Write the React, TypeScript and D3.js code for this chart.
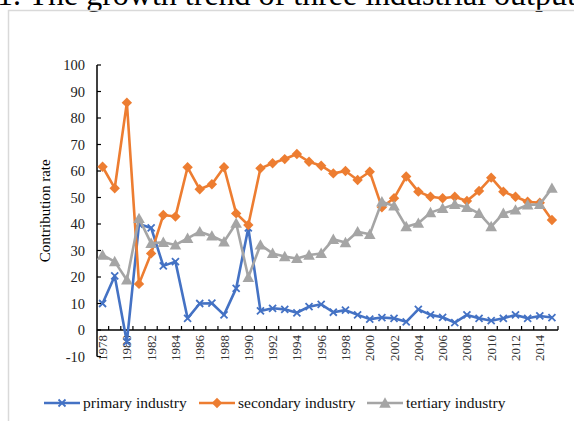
import React from "react";
import * as d3 from "d3";

const years: number[] = d3.range(1978, 2016);
const primary: number[] = [10, 20.4, -4.5, 40, 38.5, 24.2, 25.8, 4.4, 10, 10.1, 5.7, 15.7, 38.5,
  7.2, 8.2, 7.8, 6.5, 8.8, 9.7, 6.7, 7.5, 5.7, 4.1, 4.7, 4.4, 3.1, 7.8, 5.7, 4.8, 2.8, 5.7, 4.4, 3.5, 4.4, 5.7, 4.4, 5.3, 4.7];
const secondary: number[] = [61.6, 53.5, 85.8, 17.4, 28.9, 43.4, 42.8, 61.4, 53.1, 55, 61.4, 44, 39.6,
  61, 62.9, 64.5, 66.4, 63.5, 62, 59.1, 60, 56.6, 59.7, 46.3, 49.7, 57.9, 52.2, 50.3, 49.7, 50.3, 48.7, 52.5, 57.5, 52.2, 50.3, 48.4, 48, 41.5];
const tertiary: number[] = [28.3, 25.8, 18.9, 42.1, 32.7, 33.1, 32.1, 34.6, 37.1, 35.5, 33.3, 40.3, 19.9,
  32.1, 28.9, 27.7, 27, 28.3, 28.9, 34.2, 33, 37.1, 36.1, 48.4, 46.8, 39, 40.3, 44.3, 45.9, 47.4, 46.3, 44, 39, 44, 45.3, 47.2, 47.4, 53.5];
const yTicks: number[] = d3.range(-10, 101, 10);
const seriesNames: string[] = ["primary industry", "secondary industry", "tertiary industry"];
const colors: string[] = ["#4472C4", "#ED7D31", "#A5A5A5"];
const titleText = "1.   The growth trend of three industrial output";

const FONT = "Liberation Serif";

function Marker({ kind, x, y, color }: { kind: number; x: number; y: number; color: string }) {
  if (kind === 0) {
    const s = 3.5;
    return (
      <path d={`M${x - s},${y - s}L${x + s},${y + s}M${x - s},${y + s}L${x + s},${y - s}`} stroke={color} strokeWidth={1.8} fill="none" />
    );
  }
  if (kind === 1) {
    const s = 5.2;
    return <path d={`M${x},${y - s}L${x + s},${y}L${x},${y + s}L${x - s},${y}Z`} fill={color} />;
  }
  const s = 5.8;
  return <path d={`M${x},${y - s}L${x + s},${y + s * 0.8}L${x - s},${y + s * 0.8}Z`} fill={color} />;
}

export default function App() {
  const W = 574, H = 421;
  const left = 97, right = 558;
  const y = d3.scaleLinear().domain([-10, 100]).range([356.5, 65]);
  const x = d3.scaleBand<number>().domain(years).range([left - 0.5, right]).paddingInner(0).paddingOuter(0);
  const cx = (yr: number) => (x(yr) as number) + x.bandwidth() / 2;
  const all = [primary, secondary, tertiary];
  const line = d3.line<number>().x((_, i) => cx(years[i])).y((d) => y(d));
  const y0 = y(0);

  const legendItems = [
    { lx: 44, tx: 83 },
    { lx: 199, tx: 238 },
    { lx: 367, tx: 406 },
  ];

  return (
    <svg width={W} height={H} style={{ position: "absolute", left: 0, top: 0, background: "#fff", fontFamily: FONT }}>
      <rect x={0} y={0} width={W} height={H} fill="#fff" />
      <text x={-3} y={5} style={{ fontFamily: FONT }} fontSize={32} fill="#000">{titleText}</text>
      <rect x={8.5} y={10.5} width={W + 10} height={H + 10} fill="none" stroke="#D9D9D9" strokeWidth={1.5} />

      {/* y axis */}
      <line x1={left} x2={left} y1={y(100)} y2={y(-10)} stroke="#000" strokeWidth={1.5} />
      {yTicks.map((t) => (
        <g key={t}>
          <line x1={left} x2={left + 4} y1={y(t)} y2={y(t)} stroke="#000" strokeWidth={1.2} />
          <text x={left - 12} y={y(t)} dy="0.35em" textAnchor="end" style={{ fontFamily: FONT }} fontSize={14.5} fill="#222">{t}</text>
        </g>
      ))}
      <text transform={`translate(50,${(y(100) + y(-10)) / 2}) rotate(-90)`} textAnchor="middle" style={{ fontFamily: FONT }} fontSize={15} fill="#000">Contribution rate</text>

      {/* x axis */}
      <line x1={left} x2={right} y1={y0} y2={y0} stroke="#000" strokeWidth={1.5} />
      {years.map((yr) => (
        <line key={"t" + yr} x1={(x(yr) as number) + x.bandwidth()} x2={(x(yr) as number) + x.bandwidth()} y1={y0} y2={y0 - 4} stroke="#000" strokeWidth={1.2} />
      ))}
      {years.filter((yr) => (yr - 1978) % 2 === 0).map((yr) => (
        <text key={"l" + yr} transform={`translate(${cx(yr)},${y0 + 5}) rotate(-90)`} textAnchor="end" dy="0.35em" style={{ fontFamily: FONT }} fontSize={13} fill="#333">{yr}</text>
      ))}

      {/* series */}
      {all.map((s, k) => (
        <g key={"s" + k}>
          <path d={line(s) || ""} fill="none" stroke={colors[k]} strokeWidth={2.6} strokeLinejoin="round" />
          {s.map((v, i) => (
            <Marker key={i} kind={k} x={cx(years[i])} y={y(v)} color={colors[k]} />
          ))}
        </g>
      ))}

      {/* legend */}
      {legendItems.map((it, k) => (
        <g key={"lg" + k}>
          <line x1={it.lx} x2={it.lx + 36} y1={403} y2={403} stroke={colors[k]} strokeWidth={2.6} />
          <Marker kind={k} x={it.lx + 18} y={403} color={colors[k]} />
          <text x={it.tx} y={403} dy="0.35em" style={{ fontFamily: FONT }} fontSize={15.5} fill="#111">{seriesNames[k]}</text>
        </g>
      ))}
    </svg>
  );
}
